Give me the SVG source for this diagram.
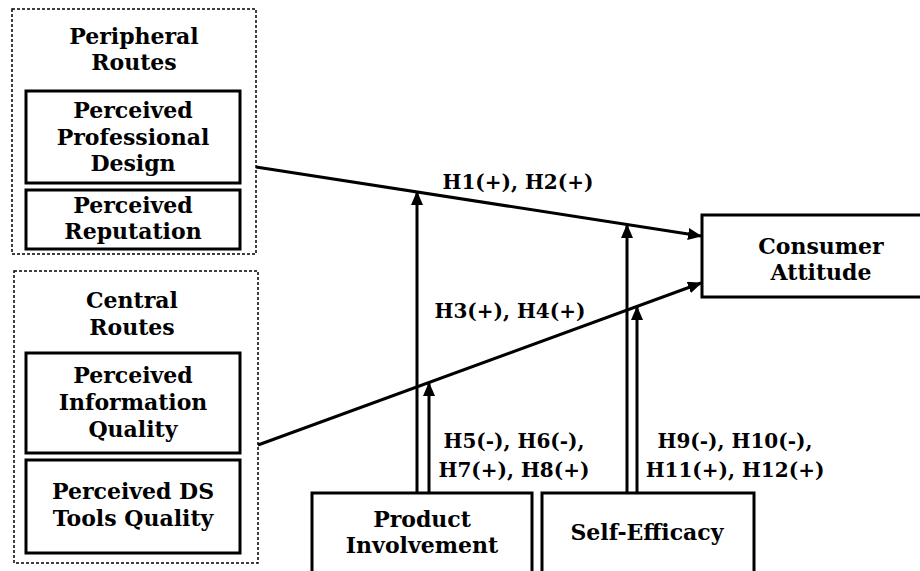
<svg xmlns="http://www.w3.org/2000/svg" width="920" height="571" viewBox="0 0 920 571">
<style>
text{font-family:"DejaVu Serif","Liberation Serif",serif;font-weight:bold;font-size:22px;fill:#000;text-anchor:middle}
.lbl{font-size:20px}
.grp{fill:none;stroke:#000;stroke-width:1.5;stroke-dasharray:3 2}
.box{fill:#fff;stroke:#000;stroke-width:3}
.con{fill:none;stroke:#000;stroke-width:3;marker-end:url(#ah)}
</style>
<defs>
<marker id="ah" viewBox="0 0 14 12" refX="13" refY="6" markerWidth="14" markerHeight="12" markerUnits="userSpaceOnUse" orient="auto">
<path d="M0,0 L14,6 L0,12 Z" fill="#000"/>
</marker>
</defs>
<rect width="920" height="571" fill="#fff"/>
<g id="peripheral-routes">
<rect class="grp" x="12" y="9" width="244" height="245"/>
<text x="134" y="44">Peripheral</text>
<text x="134" y="70">Routes</text>
</g>
<g id="perceived-professional-design">
<rect class="box" x="26" y="91" width="214" height="92"/>
<text x="133" y="118">Perceived</text>
<text x="133" y="145">Professional</text>
<text x="133" y="171">Design</text>
</g>
<g id="perceived-reputation">
<rect class="box" x="26" y="190" width="214" height="59"/>
<text x="133" y="213">Perceived</text>
<text x="133" y="239">Reputation</text>
</g>
<g id="central-routes">
<rect class="grp" x="14" y="271" width="244" height="292"/>
<text x="132" y="308">Central</text>
<text x="132" y="335">Routes</text>
</g>
<g id="perceived-information-quality">
<rect class="box" x="26" y="353" width="214" height="100"/>
<text x="133" y="383">Perceived</text>
<text x="133" y="410">Information</text>
<text x="133" y="437">Quality</text>
</g>
<g id="perceived-ds-tools-quality">
<rect class="box" x="26" y="460" width="214" height="93"/>
<text x="133" y="499">Perceived DS</text>
<text x="133" y="526">Tools Quality</text>
</g>
<g id="consumer-attitude">
<rect class="box" x="702" y="215" width="240" height="82"/>
<text x="821" y="254">Consumer</text>
<text x="821" y="280">Attitude</text>
</g>
<g id="product-involvement">
<rect class="box" x="312" y="493" width="220" height="90"/>
<text x="422" y="527">Product</text>
<text x="422" y="553">Involvement</text>
</g>
<g id="self-efficacy">
<rect class="box" x="542" y="493" width="212" height="90"/>
<text x="647" y="540">Self-Efficacy</text>
</g>
<g id="connectors">
<line class="con" x1="256" y1="167" x2="701" y2="236"/>
<line class="con" x1="258" y1="445" x2="701" y2="283"/>
<line class="con" x1="417" y1="493" x2="417" y2="192"/>
<line class="con" x1="429" y1="493" x2="429" y2="383"/>
<line class="con" x1="627" y1="493" x2="627" y2="225"/>
<line class="con" x1="637" y1="493" x2="637" y2="307"/>
</g>
<g id="labels">
<text class="lbl" x="518" y="189">H1(+), H2(+)</text>
<text class="lbl" x="510" y="318">H3(+), H4(+)</text>
<text class="lbl" x="514" y="448">H5(-), H6(-),</text>
<text class="lbl" x="514" y="477">H7(+), H8(+)</text>
<text class="lbl" x="735" y="448">H9(-), H10(-),</text>
<text class="lbl" x="735" y="477">H11(+), H12(+)</text>
</g>
</svg>
